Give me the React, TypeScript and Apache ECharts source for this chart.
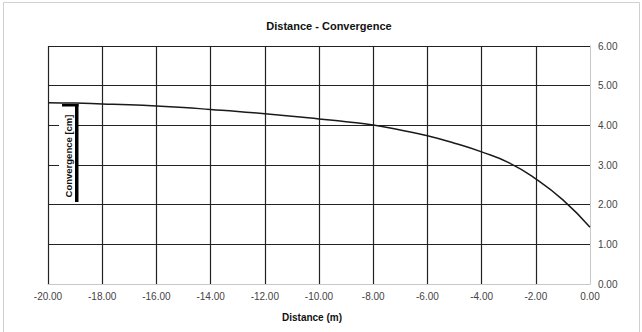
import React, { useEffect, useRef } from "react";
import * as echarts from "echarts";

const distances = [-20, -19, -18, -17, -16, -15, -14, -13, -12, -11, -10, -9, -8, -7, -6, -5, -4, -3, -2, -1, 0];
const convergence = [4.57, 4.56, 4.54, 4.52, 4.49, 4.45, 4.4, 4.35, 4.29, 4.23, 4.16, 4.09, 4.01, 3.88, 3.74, 3.55, 3.33, 3.06, 2.65, 2.12, 1.43];

const titleText = "Distance - Convergence";
const xAxisName = "Distance (m)";
const yAxisName = "Convergence [cm]";

export default function App() {
  const ref = useRef<HTMLDivElement>(null);
  useEffect(() => {
    if (!ref.current) return;
    const chart = echarts.init(ref.current, null, { renderer: "svg" });
    const font = "'Liberation Sans', Arial, sans-serif";
    chart.setOption({
      animation: false,
      backgroundColor: "#ffffff",
      title: {
        text: titleText,
        left: 324,
        textAlign: "center",
        top: 15,
        textStyle: { fontFamily: font, fontSize: 11, fontWeight: "bold", color: "#111" },
      },
      grid: { left: 48, top: 46, width: 542, height: 238, containLabel: false },
      xAxis: {
        type: "value",
        min: -20,
        max: 0,
        interval: 2,
        name: xAxisName,
        nameLocation: "middle",
        nameGap: 28,
        nameTextStyle: { fontFamily: font, fontSize: 10, fontWeight: "bold", color: "#111", padding: [0, 14, 0, 0] },
        axisLine: { show: true, lineStyle: { color: "#c8c8c8", width: 1 } },
        axisTick: { show: false },
        axisLabel: {
          fontFamily: font,
          fontSize: 10,
          color: "#444",
          margin: 7,
          formatter: (v: number) => v.toFixed(2),
        },
        splitLine: { show: true, showMaxLine: false, lineStyle: { color: "#222", width: 1.2 } },
      },
      yAxis: {
        type: "value",
        position: "right",
        min: 0,
        max: 6,
        interval: 1,
        axisLine: { show: true, lineStyle: { color: "#c8c8c8", width: 1 } },
        axisTick: { show: false },
        axisLabel: {
          fontFamily: font,
          fontSize: 10,
          color: "#444",
          margin: 8,
          formatter: (v: number) => v.toFixed(2),
        },
        splitLine: { show: true, showMinLine: false, lineStyle: { color: "#222", width: 1.2 } },
      },
      series: [
        {
          type: "line",
          data: distances.map((d, i) => [d, convergence[i]]),
          smooth: true,
          showSymbol: false,
          lineStyle: { color: "#1a1a1a", width: 1.5 },
          z: 3,
        },
      ],
      graphic: [
        {
          type: "rect",
          shape: { x: 3.5, y: 2.5, width: 636, height: 340 },
          style: { fill: "none", stroke: "#d0d0d0", lineWidth: 1 },
          silent: true,
        },
        {
          type: "rect",
          shape: { x: 59, y: 106, width: 16, height: 98 },
          style: { fill: "#ffffff" },
          z: 10,
        },
        {
          type: "rect",
          shape: { x: 75, y: 104, width: 3.5, height: 98 },
          style: { fill: "#000000" },
          z: 10,
        },
        {
          type: "rect",
          shape: { x: 62, y: 104, width: 16.5, height: 2.5 },
          style: { fill: "#000000" },
          z: 10,
        },
        {
          type: "text",
          x: 68,
          y: 156,
          rotation: Math.PI / 2,
          z: 11,
          style: {
            text: yAxisName,
            fontFamily: font,
            fontSize: 9.5,
            fontWeight: "bold",
            fill: "#111",
            align: "center",
            verticalAlign: "middle",
          },
        },
      ],
    });
    return () => chart.dispose();
  }, []);
  return (
    <div
      ref={ref}
      style={{ position: "fixed", left: 0, top: 0, width: 642, height: 332 }}
    />
  );
}
